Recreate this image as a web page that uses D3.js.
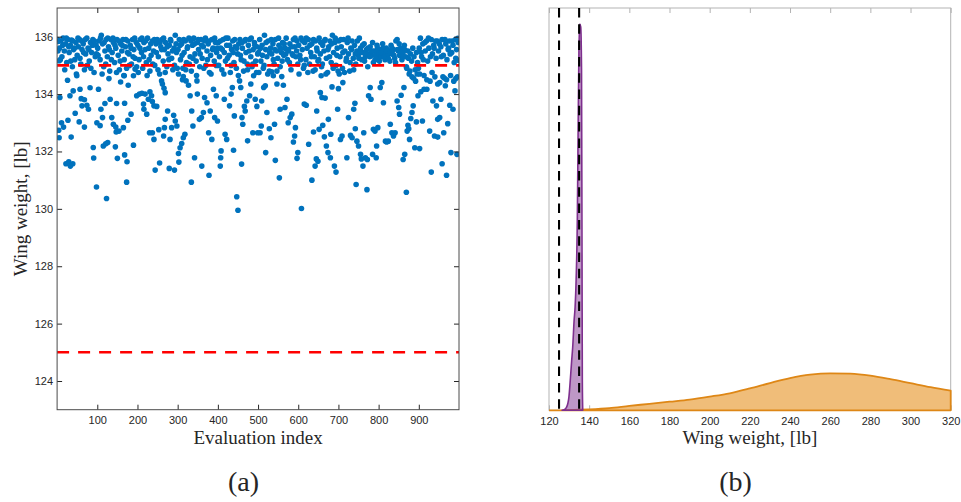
<!DOCTYPE html>
<html>
<head>
<meta charset="utf-8">
<script src="https://cdn.jsdelivr.net/npm/d3@7"></script>
<style>
  body { margin: 0; background: #fff; }
  .tick text { font-family: "Liberation Sans", Arial, sans-serif; font-size: 11px; fill: #262626; }
  .serif { font-family: "Liberation Serif", "Times New Roman", serif; fill: #262626; }
</style>
</head>
<body>
<svg id="chart" width="961" height="502"></svg>
<script>
// ---- Panel (a): wing weight for each evaluation ----
// Scattered evaluations below the main band: [evaluation index, wing weight lb]
const lowerSamples = [
  [3,135.83],[5,135.16],[7,133.88],[4,132.74],[5,132.48],[11,133.0],[16,132.85],[22,131.57],[29,131.64],[33,131.49],
  [39,131.57],[35,132.5],[27,133.09],[45,133.33],[32,133.94],[40,134.11],[26,134.48],[49,134.64],[57,134.17],[60,133.84],
  [68,133.8],[74,133.61],[62,133.59],[55,133.03],[68,132.85],[78,133.47],[82,134.22],[90,132.14],[91,131.77],[98,130.76],
  [99,133.0],[123,130.36],[109,133.47],[115,132.19],[121,132.27],[126,132.31],[107,132.9],[113,133.18],[119,133.67],[103,134.17],
  [132,133.82],[129,134.54],[136,133.18],[140,132.95],[146,132.85],[148,133.67],[147,132.68],[145,132.16],[150,131.76],[154,132.71],
  [165,132.83],[168,133.68],[168,131.88],[174,131.64],[173,130.93],[176,133.09],[184,133.3],[190,132.22],[158,134.42],[167,134.64],
  [177,134.31],[190,134.64],[194,134.87],[198,133.94],[205,134.0],[211,134.03],[219,134.0],[215,133.65],[216,133.47],[223,133.3],
  [227,133.82],[231,134.08],[235,133.94],[237,133.74],[241,133.59],[230,132.65],[237,132.65],[241,132.42],[244,131.35],[248,133.57],
  [253,132.76],[255,131.6],[260,134.46],[262,134.35],[266,134.2],[269,134.05],[269,133.12],[265,132.54],[267,132.83],[275,133.41],
  [279,131.41],[281,132.42],[290,133.26],[292,131.35],[285,132.83],[294,133.06],[298,132.89],[302,131.93],[306,132.13],[303,131.63],
  [310,132.28],[314,132.48],[318,132.6],[312,134.5],[314,134.61],[321,134.46],[327,134.31],[331,133.94],[334,130.93],[335,133.41],
  [338,132.89],[342,131.78],[348,134.46],[349,134.0],[354,133.12],[359,133.18],[360,131.49],[364,133.36],[367,133.88],[373,133.7],
  [377,132.65],[378,131.17],[381,133.41],[385,132.42],[389,134.17],[392,133.18],[396,133.94],[399,133.06],[406,131.49],[408,132.02],
  [407,131.78],[418,132.6],[422,132.42],[416,133.82],[429,133.59],[433,134.0],[436,134.23],[439,132.04],[441,133.24],[447,130.42],
  [450,129.95],[454,134.46],[457,134.23],[460,133.18],[459,131.56],[462,132.95],[466,133.57],[468,133.41],[472,133.76],[474,132.37],
  [479,133.94],[482,134.35],[487,132.65],[489,134.64],[493,133.82],[497,133.57],[499,132.65],[505,132.65],[508,132.89],[509,133.76],
  [514,134.23],[518,134.29],[519,131.96],[522,133.36],[528,132.79],[532,132.48],[534,134.78],[538,134.64],[541,132.95],[543,131.69],
  [547,134.35],[553,131.08],[555,133.47],[559,134.61],[563,134.31],[567,133.53],[572,133.82],[575,133.0],[580,133.18],[584,133.3],
  [588,132.33],[591,132.54],[593,132.83],[597,131.76],[599,131.96],[608,130.01],[615,133.65],[620,133.61],[626,132.25],[634,131.0],
  [638,132.68],[642,131.49],[645,131.74],[646,133.41],[649,131.66],[652,132.77],[655,134.05],[657,134.64],[659,133.88],[661,132.91],
  [665,132.51],[667,133.86],[670,132.19],[674,131.96],[675,133.12],[680,131.78],[681,132.6],[684,134.25],[690,131.49],[694,131.28],
  [698,133.47],[700,134.19],[705,132.42],[709,132.54],[711,134.4],[721,131.78],[725,133.18],[730,132.56],[734,132.48],[738,133.47],
  [741,133.68],[742,132.79],[744,130.85],[746,132.36],[750,132.19],[755,131.9],[757,131.74],[761,131.49],[763,132.65],[767,131.78],
  [771,130.67],[772,131.72],[775,133.94],[779,134.23],[781,133.82],[785,131.9],[787,132.77],[791,132.71],[794,131.78],[795,132.19],
  [798,132.83],[804,134.23],[808,134.4],[812,133.7],[817,132.36],[820,132.33],[824,132.36],[829,132.95],[833,132.65],[837,132.54],
  [841,132.65],[846,133.76],[850,133.53],[852,133.3],[856,133.96],[861,131.72],[863,134.23],[865,131.9],[869,130.58],[871,132.71],
  [873,132.91],[875,132.79],[877,132.42],[880,133.15],[883,133.36],[886,133.59],[890,132.13],[894,133.03],[898,133.94],[902,132.1],
  [905,134.08],[909,133.06],[913,134.17],[920,134.17],[927,132.71],[931,131.28],[935,133.76],[939,132.54],[944,133.59],[947,133.12],
  [947,132.5],[952,133.18],[955,133.82],[958,131.57],[962,132.65],[966,134.29],[969,131.17],[972,132.97],[977,133.61],[980,131.96],
  [985,133.47],[990,134.11],[992,134.54],[995,131.9],[997,135.94],[999,135.18]
];

// Evaluations in the dense band just under the upper limit: [evaluation index, wing weight lb]
const bandSamples = [
  [1,135.9],[6,135.6],[9,135.85],[12,135.3],[15,135.95],[18,135.5],[21,135.75],[24,135.1],[27,135.9],[30,135.45],[33,135.7],[36,135.88],[38,134.95],[41,135.55],[44,135.2],[47,135.8],[50,135.35],[53,135.65],[56,135.9],[59,135.05],[62,135.55],[65,135.75],[68,134.85],[71,135.4],[74,135.95],[77,135.6],[80,135.15],[83,135.8],[86,135.45],[89,135.9],[92,134.75],[95,135.3],[97,135.7],
  [2,135.5],[8,135.2],[14,135.7],[19,134.85],[23,135.95],[29,135.65],[34,135.15],[39,135.85],[43,135.6],[48,134.7],[52,135.95],[57,135.25],[61,135.85],[66,135.45],[70,135.9],[75,135.0],[79,135.55],[84,134.9],[88,135.7],[93,135.85],[98,135.4],
  [101,135.6],[104,135.85],[107,135.2],[110,136.05],[113,135.75],[116,134.95],[119,135.5],[122,135.9],[125,135.3],[128,135.65],[131,134.8],[134,135.9],[137,135.45],[140,135.8],[143,135.1],[146,135.6],[149,135.9],[152,135.35],[155,134.85],[158,135.75],[161,135.5],[164,135.9],[167,135.2],[170,135.65],[173,134.9],[176,135.85],[179,135.4],[182,135.7],[185,135.05],[188,135.9],[191,135.55],[194,135.25],[197,135.8],
  [102,135.35],[108,135.95],[112,134.7],[117,135.8],[121,135.05],[126,135.95],[130,135.55],[135,135.2],[139,135.95],[144,135.7],[148,134.75],[153,135.85],[157,135.15],[162,135.7],[166,134.65],[171,135.9],[175,135.45],[180,135.0],[184,135.6],[189,135.3],[193,135.95],[198,134.95],
  [201,135.7],[204,135.2],[207,135.9],[210,135.45],[213,134.9],[216,135.8],[219,135.55],[222,135.1],[225,135.95],[228,135.6],[231,134.8],[234,135.35],[237,135.85],[240,135.5],[243,135.0],[246,135.75],[249,135.9],[252,135.3],[255,134.7],[258,135.65],[261,135.9],[264,135.15],[267,135.55],[270,135.8],[273,134.95],[276,135.4],[279,135.7],[282,135.9],[285,135.25],[288,134.85],[291,135.6],[294,136.05],[297,135.45],
  [202,134.75],[206,135.6],[211,135.95],[215,135.3],[220,135.85],[224,134.65],[229,135.2],[233,135.75],[238,135.05],[242,135.9],[247,135.45],[251,134.85],[256,135.8],[260,135.55],[265,135.95],[269,134.75],[274,135.65],[278,135.2],[283,135.85],[287,135.5],[292,135.0],[296,135.75],[299,134.9],
  [301,135.55],[304,135.9],[307,135.2],[310,135.75],[313,134.9],[316,135.45],[319,135.85],[322,135.1],[325,135.65],[328,135.95],[331,135.3],[334,134.8],[337,135.7],[340,135.95],[343,135.4],[346,135.15],[349,135.8],[352,135.55],[355,134.95],[358,135.9],[361,135.25],[364,135.65],[367,135.85],[370,135.0],[373,135.5],[376,135.75],[379,134.75],[382,135.35],[385,135.9],[388,135.6],[391,135.15],[394,135.8],[397,135.45],
  [302,134.7],[306,135.7],[311,135.35],[315,135.9],[320,134.85],[324,135.6],[329,135.05],[333,135.85],[338,135.25],[342,135.75],[347,134.65],[351,135.9],[356,135.4],[360,135.7],[365,134.9],[369,135.95],[374,135.2],[378,135.85],[383,134.7],[387,135.55],[392,135.95],[396,135.0],[399,135.6],
  [401,135.8],[404,135.3],[407,135.6],[410,134.85],[413,135.9],[416,135.45],[419,135.15],[422,135.7],[425,135.95],[428,135.35],[431,134.75],[434,135.55],[437,135.85],[440,135.1],[443,135.65],[446,134.9],[449,135.4],[452,135.75],[455,135.9],[458,135.2],[461,135.6],[464,134.8],[467,135.85],[470,135.45],[473,135.05],[476,135.7],[479,135.9],[482,135.3],[485,134.95],[488,135.55],[491,135.8],[494,135.15],[497,135.65],
  [402,135.0],[406,135.85],[411,135.55],[415,134.7],[420,135.95],[424,135.25],[429,135.7],[433,135.0],[438,135.45],[442,135.9],[447,135.6],[451,134.65],[456,135.35],[460,135.8],[465,135.15],[469,135.9],[474,134.85],[478,135.5],[483,135.95],[487,135.05],[492,135.7],[496,134.75],[499,135.4],
  [501,135.45],[504,135.9],[507,135.15],[510,135.7],[513,134.9],[516,136.05],[519,135.55],[522,135.3],[525,135.85],[528,134.8],[531,135.6],[534,135.4],[537,135.75],[540,135.05],[543,135.9],[546,135.5],[549,135.25],[552,135.7],[555,134.95],[558,135.45],[561,135.8],[564,135.35],[567,135.6],[570,135.95],[573,135.2],[576,135.5],[579,135.75],[582,134.85],[585,135.4],[588,135.9],[591,135.65],[594,135.3],[597,135.85],
  [502,134.75],[506,135.6],[511,135.35],[515,135.0],[520,135.8],[524,134.7],[529,135.45],[533,135.9],[538,135.2],[542,135.55],[547,134.8],[551,135.95],[556,135.6],[560,135.15],[565,135.75],[569,135.4],[574,135.55],[578,135.1],[583,135.65],[587,135.35],[592,135.95],[596,135.5],[599,135.05],
  [601,135.7],[604,135.35],[607,135.95],[610,135.55],[613,134.9],[616,135.8],[619,135.2],[622,135.6],[625,135.9],[628,135.05],[631,135.45],[634,135.75],[637,134.8],[640,135.3],[643,135.85],[646,135.6],[649,135.15],[652,135.95],[655,135.4],[658,134.95],[661,135.7],[664,135.5],[667,135.9],[670,135.25],[673,134.75],[676,135.65],[679,135.85],[682,135.1],[685,136.05],[688,135.45],[691,135.8],[694,135.0],[697,135.6],
  [602,134.7],[606,135.2],[611,135.85],[615,135.0],[620,135.95],[624,134.75],[629,135.7],[633,135.3],[638,135.9],[642,134.85],[647,135.5],[651,135.2],[656,135.8],[660,135.05],[665,135.85],[669,134.7],[674,135.55],[678,135.3],[683,135.75],[687,134.9],[692,135.95],[696,135.35],[699,134.8],
  [701,135.85],[704,135.3],[707,135.65],[710,134.9],[713,135.9],[716,135.5],[719,135.15],[722,135.8],[725,135.4],[728,134.8],[731,135.6],[734,135.85],[737,135.25],[740,135.7],[743,135.05],[746,135.5],[749,135.35],[752,135.95],[755,135.6],[758,135.2],[761,135.45],[764,135.75],[767,135.3],[770,135.55],[773,134.95],[776,135.4],[779,135.65],[782,135.35],[785,135.8],[788,135.5],[791,135.2],[794,135.45],[797,135.6],
  [702,134.7],[706,135.9],[711,135.45],[715,134.75],[720,135.25],[724,135.95],[729,135.1],[733,135.55],[738,134.85],[742,135.4],[747,135.85],[751,135.25],[756,135.45],[760,135.7],[765,135.15],[769,135.4],[774,135.6],[778,135.3],[783,135.5],[787,135.1],[792,135.35],[796,135.7],[799,135.25],
  [801,135.4],[804,135.55],[807,135.3],[810,135.75],[813,135.45],[816,135.2],[819,135.6],[822,135.35],[825,135.5],[828,135.15],[831,135.7],[834,135.4],[837,135.55],[840,135.25],[843,135.85],[846,135.9],[849,135.5],[852,135.35],[855,135.6],[858,135.2],[861,135.45],[864,135.7],[867,135.3],[870,134.9],[873,135.5],[876,134.7],[879,135.4],[882,135.15],[885,135.6],[888,135.3],[891,134.85],[894,135.45],[897,135.1],
  [802,135.15],[806,135.45],[811,135.6],[815,135.3],[820,135.5],[824,135.25],[829,135.45],[833,135.6],[838,135.35],[842,135.1],[847,135.55],[851,135.75],[856,135.45],[860,135.3],[865,135.55],[869,134.95],[874,135.25],[878,134.8],[883,134.6],[887,134.55],[892,134.45],[896,134.7],[899,134.9],
  [901,135.6],[904,135.95],[907,135.3],[910,135.75],[913,134.65],[916,135.5],[919,135.85],[922,135.15],[925,135.6],[928,134.45],[931,135.9],[934,135.4],[937,135.7],[940,134.6],[943,135.25],[946,135.85],[949,135.5],[952,134.4],[955,135.65],[958,135.9],[961,135.35],[964,134.55],[967,135.75],[970,135.2],[973,135.55],[976,135.85],[979,134.65],[982,135.45],[985,135.7],[988,135.1],[991,135.9],[994,135.55],[996,134.6],
  [902,134.7],[906,135.45],[911,135.2],[915,135.8],[920,134.5],[924,135.95],[929,135.3],[933,134.75],[938,135.6],[942,135.85],[947,134.35],[951,135.75],[956,135.3],[960,134.6],[965,135.9],[969,134.5],[974,135.6],[978,135.4],[983,135.85],[987,134.45],[992,135.25],[998,135.8]
];

// Wing-weight limits (lb)
const weightLimits = [125, 135];

const indexTicks = [100, 200, 300, 400, 500, 600, 700, 800, 900];
const weightTicks = [124, 126, 128, 130, 132, 134, 136];

// ---- Panel (b): densities of wing weight ----
const densityTicks = [120, 140, 160, 180, 200, 220, 240, 260, 280, 300, 320];
// Optimized design: [wing weight lb, density]
const optimizedDensity = [
  [126.5,0],[127.5,0.0004],[128.7,0.0022],[129.9,0.0097],[130.7,0.0246],[131.3,0.0373],[131.8,0.047],
  [132.5,0.067],[133.0,0.077],[133.5,0.097],[134.1,0.142],[134.5,0.209],[134.9,0.268],[135.3,0.288],
  [135.8,0.286],[136.2,0.254],[136.45,0.112],[136.6,0.022],[136.8,0]
];
// Baseline design: [wing weight lb, density]
const baselineDensity = [
  [120,0],[130,0.0002],[140,0.0007],[150,0.0016],[160,0.0033],[170,0.0048],[180,0.0064],[190,0.0080],
  [200,0.0102],[210,0.0127],[220,0.0163],[230,0.0203],[240,0.0240],[250,0.0266],[260,0.0276],[270,0.0273],
  [280,0.0258],[290,0.0232],[300,0.0202],[310,0.0172],[320,0.0146]
];

const svg = d3.select("#chart");

// ===== Panel (a) =====
const ax = { left: 57.1, right: 459, top: 8, bottom: 409.7 };
const xA = d3.scaleLinear().domain([0, 1000]).range([ax.left, ax.right]);
const yA = d3.scaleLinear().domain([123, 137]).range([ax.bottom, ax.top]);

const gA = svg.append("g");
gA.append("rect").attr("x", ax.left).attr("y", ax.top)
  .attr("width", ax.right - ax.left).attr("height", ax.bottom - ax.top)
  .attr("fill", "#fff");

svg.append("clipPath").attr("id", "clipA").append("rect")
  .attr("x", ax.left).attr("y", ax.top).attr("width", ax.right - ax.left).attr("height", ax.bottom - ax.top);

const dotRadius = 2.8;
const dots = gA.append("g").attr("clip-path", "url(#clipA)");
dots.selectAll("circle.band").data(bandSamples).join("circle")
  .attr("class", "band")
  .attr("cx", d => xA(d[0])).attr("cy", d => yA(d[1])).attr("r", dotRadius).attr("fill", "#0072BD");
dots.selectAll("circle.low").data(lowerSamples).join("circle")
  .attr("class", "low")
  .attr("cx", d => xA(d[0])).attr("cy", d => yA(d[1])).attr("r", dotRadius).attr("fill", "#0072BD");

gA.append("g").attr("clip-path", "url(#clipA)")
  .selectAll("line").data(weightLimits).join("line")
  .attr("x1", ax.left).attr("x2", ax.right)
  .attr("y1", d => yA(d)).attr("y2", d => yA(d))
  .attr("stroke", "#ff0000").attr("stroke-width", 2.6).attr("stroke-dasharray", "12,9");

function styleAxis(g, color) {
  g.select(".domain").remove();
  g.selectAll(".tick line").attr("stroke", color);
}
gA.append("g").attr("transform", `translate(0,${ax.bottom})`)
  .call(d3.axisBottom(xA).tickValues(indexTicks).tickSize(-5).tickPadding(7))
  .call(g => styleAxis(g, "#262626"));
gA.append("g").attr("transform", `translate(0,${ax.top})`)
  .call(d3.axisTop(xA).tickValues(indexTicks).tickSize(-5).tickFormat(""))
  .call(g => styleAxis(g, "#262626"));
gA.append("g").attr("transform", `translate(${ax.left},0)`)
  .call(d3.axisLeft(yA).tickValues(weightTicks).tickSize(-5).tickPadding(4))
  .call(g => styleAxis(g, "#262626"));
gA.append("g").attr("transform", `translate(${ax.right},0)`)
  .call(d3.axisRight(yA).tickValues(weightTicks).tickSize(-5).tickFormat(""))
  .call(g => styleAxis(g, "#262626"));
gA.append("rect").attr("x", ax.left).attr("y", ax.top)
  .attr("width", ax.right - ax.left).attr("height", ax.bottom - ax.top)
  .attr("fill", "none").attr("stroke", "#4a4a4a").attr("stroke-width", 1);

gA.append("text").attr("class", "serif").attr("x", (ax.left + ax.right) / 2).attr("y", 444)
  .attr("text-anchor", "middle").attr("font-size", 19).text("Evaluation index");
gA.append("text").attr("class", "serif")
  .attr("transform", `translate(27,${(ax.top + ax.bottom) / 2}) rotate(-90)`)
  .attr("text-anchor", "middle").attr("font-size", 19).text("Wing weight, [lb]");
gA.append("text").attr("class", "serif").attr("x", 243.5).attr("y", 491)
  .attr("text-anchor", "middle").attr("font-size", 28).text("(a)");

// ===== Panel (b) =====
const bx = { left: 549, right: 950.7, top: 8, bottom: 410.3 };
const xB = d3.scaleLinear().domain([120, 320]).range([bx.left, bx.right]);
const yB = d3.scaleLinear().domain([0, 0.3]).range([bx.bottom, bx.top]);
const gB = svg.append("g");

gB.append("rect").attr("x", bx.left).attr("y", bx.top)
  .attr("width", bx.right - bx.left).attr("height", bx.bottom - bx.top)
  .attr("fill", "none").attr("stroke", "#b3b3b3").attr("stroke-width", 1);
gB.append("g").attr("transform", `translate(0,${bx.top})`)
  .call(d3.axisTop(xB).tickValues(densityTicks).tickSize(-5).tickFormat(""))
  .call(g => styleAxis(g, "#b3b3b3"));
gB.append("g").attr("transform", `translate(0,${bx.bottom})`)
  .call(d3.axisBottom(xB).tickValues(densityTicks).tickSize(-5).tickPadding(7))
  .call(g => styleAxis(g, "#b3b3b3"));

svg.append("clipPath").attr("id", "clipB").append("rect")
  .attr("x", bx.left).attr("y", bx.top - 2).attr("width", bx.right - bx.left + 2).attr("height", bx.bottom - bx.top + 4);

const area = d3.area().x(d => xB(d[0])).y0(yB(0)).y1(d => yB(d[1])).curve(d3.curveMonotoneX);
const plotB = gB.append("g").attr("clip-path", "url(#clipB)");

plotB.append("path").datum(baselineDensity).attr("d", area)
  .attr("fill", "#F0BD79")
  .attr("stroke", "#DE8716").attr("stroke-width", 1.8).attr("stroke-linejoin", "round");
plotB.append("path").datum(optimizedDensity).attr("d", area)
  .attr("fill", "#7E2F8E").attr("fill-opacity", 0.5)
  .attr("stroke", "#7E2F8E").attr("stroke-width", 1.6).attr("stroke-linejoin", "round");

plotB.selectAll("line.limit").data(weightLimits).join("line")
  .attr("class", "limit")
  .attr("x1", d => xB(d)).attr("x2", d => xB(d))
  .attr("y1", bx.top).attr("y2", bx.bottom)
  .attr("stroke", "#000").attr("stroke-width", 2.1).attr("stroke-dasharray", "9.5,6.8");

gB.append("text").attr("class", "serif").attr("x", (bx.left + bx.right) / 2).attr("y", 444)
  .attr("text-anchor", "middle").attr("font-size", 19).text("Wing weight, [lb]");
gB.append("text").attr("class", "serif").attr("x", 735.5).attr("y", 491)
  .attr("text-anchor", "middle").attr("font-size", 28).text("(b)");
</script>
</body>
</html>
